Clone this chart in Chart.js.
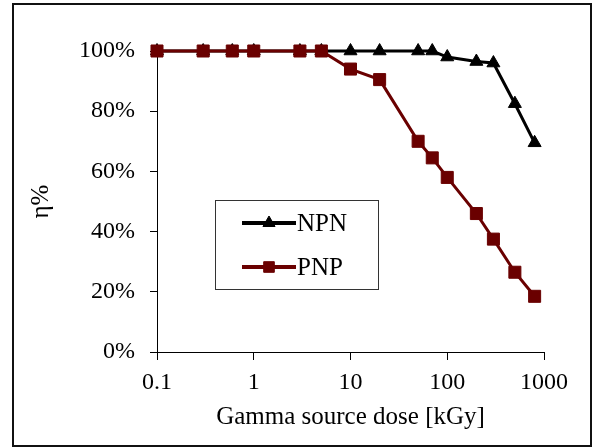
<!DOCTYPE html>
<html>
<head>
<meta charset="utf-8">
<script src="https://cdn.jsdelivr.net/npm/chart.js@4.4.0/dist/chart.umd.min.js"></script>
<style>
    body { margin: 0; background: #fff; }
    #moldura { position: absolute; left: 12px; top: 3px; width: 580px; height: 444px; box-sizing: border-box; border: 2px solid #111; }
    #area { position: absolute; left: 0; top: 0; width: 594px; height: 448px; }
</style>
</head>
<body>
<div id="moldura"></div>
<div id="area"><canvas id="grafico"></canvas></div>
<script>
// dose em kGy e eficiencia (%) de cada transistor
const doses = [0.1, 0.3, 0.6, 1, 3, 5, 10, 20, 50, 70, 100, 200, 300, 500, 800]
const npn = [100, 100, 100, 100, 100, 100, 100, 100, 100, 100, 98, 96.5, 96, 82.5, 69.5]
const pnp = [100, 100, 100, 100, 100, 100, 94, 90.5, 70, 64.5, 58, 46, 37.5, 26.5, 18.5]
const xTicks = [0.1, 1, 10, 100, 1000]
const yTicks = [0, 20, 40, 60, 80, 100]
const nomes = ['NPN', 'PNP']

const corNpn = '#000000'
const corPnp = '#6a0000'
const fonteEixo = { family: 'Liberation Serif', size: 24 }
const fonteTitulo = { family: 'Liberation Serif', size: 25 }

// legenda desenhada dentro da area do grafico
const legendaBox = {
    id: 'legendaBox',
    afterDraw(chart) {
        const ctx = chart.ctx
        ctx.save()
        ctx.fillStyle = '#fff'
        ctx.fillRect(215, 200, 163, 89)
        ctx.strokeStyle = '#333'
        ctx.lineWidth = 1
        ctx.strokeRect(215.5, 200.5, 163, 89)

        const itens = [
            { nome: nomes[0], cor: corNpn, estilo: 'triangle', raio: 7, y: 223 },
            { nome: nomes[1], cor: corPnp, estilo: 'rect', raio: 7.5, y: 267 }
        ]
        itens.forEach(item => {
            ctx.strokeStyle = item.cor
            ctx.lineWidth = 4
            ctx.beginPath()
            ctx.moveTo(242, item.y)
            ctx.lineTo(296, item.y)
            ctx.stroke()
            ctx.fillStyle = item.cor
            ctx.lineWidth = 1
            Chart.helpers.drawPoint(ctx, { pointStyle: item.estilo, radius: item.raio, rotation: 0, borderWidth: 1 }, 269, item.y)
            ctx.fillStyle = '#000'
            ctx.font = '25px "Liberation Serif"'
            ctx.textBaseline = 'middle'
            ctx.textAlign = 'left'
            ctx.fillText(item.nome, 297, item.y + 1)
        })
        ctx.restore()
    }
}

const ctx = document.getElementById('grafico').getContext('2d')

const myChart = new Chart(ctx, {
    type: 'line',
    data: {
        datasets: [{
            label: nomes[0],
            data: doses.map((d, i) => ({ x: d, y: npn[i] })),
            borderColor: corNpn,
            backgroundColor: corNpn,
            borderWidth: 3,
            pointStyle: 'triangle',
            pointRadius: 7.5,
            pointBorderWidth: 1,
            tension: 0,
            clip: false,
            order: 1
        }, {
            label: nomes[1],
            data: doses.map((d, i) => ({ x: d, y: pnp[i] })),
            borderColor: corPnp,
            backgroundColor: corPnp,
            borderWidth: 3,
            pointStyle: 'rect',
            pointRadius: 8.5,
            pointBorderWidth: 1,
            tension: 0,
            clip: false,
            order: 0
        }]
    },
    options: {
        responsive: true,
        maintainAspectRatio: false,
        animation: false,
        layout: { padding: { left: 0, right: 50, top: 51, bottom: 0 } },
        plugins: {
            legend: { display: false },
            tooltip: { enabled: false }
        },
        scales: {
            x: {
                type: 'logarithmic',
                min: 0.1,
                max: 1000,
                afterBuildTicks: s => { s.ticks = xTicks.map(v => ({ value: v })) },
                afterFit: s => { s.height = 96 },
                ticks: {
                    callback: v => String(v),
                    font: fonteEixo,
                    color: '#000',
                    padding: 8,
                    autoSkip: false,
                    maxRotation: 0
                },
                grid: { drawOnChartArea: false, drawTicks: true, tickLength: 8, color: '#000' },
                border: { display: true, color: '#000', width: 1 },
                title: {
                    display: true,
                    text: 'Gamma source dose [kGy]',
                    font: fonteTitulo,
                    color: '#000',
                    padding: { top: 0, bottom: 16 }
                }
            },
            y: {
                min: 0,
                max: 100,
                afterBuildTicks: s => { s.ticks = yTicks.map(v => ({ value: v })) },
                afterFit: s => { s.width = 157 },
                ticks: {
                    callback: v => v + '%',
                    font: fonteEixo,
                    color: '#000',
                    padding: 15
                },
                grid: { drawOnChartArea: false, drawTicks: true, tickLength: 7, color: '#000' },
                border: { display: true, color: '#000', width: 1 },
                title: {
                    display: true,
                    text: 'η%',
                    font: fonteTitulo,
                    color: '#000',
                    padding: { top: 26, bottom: 0 }
                }
            }
        }
    },
    plugins: [legendaBox]
})
</script>
</body>
</html>
